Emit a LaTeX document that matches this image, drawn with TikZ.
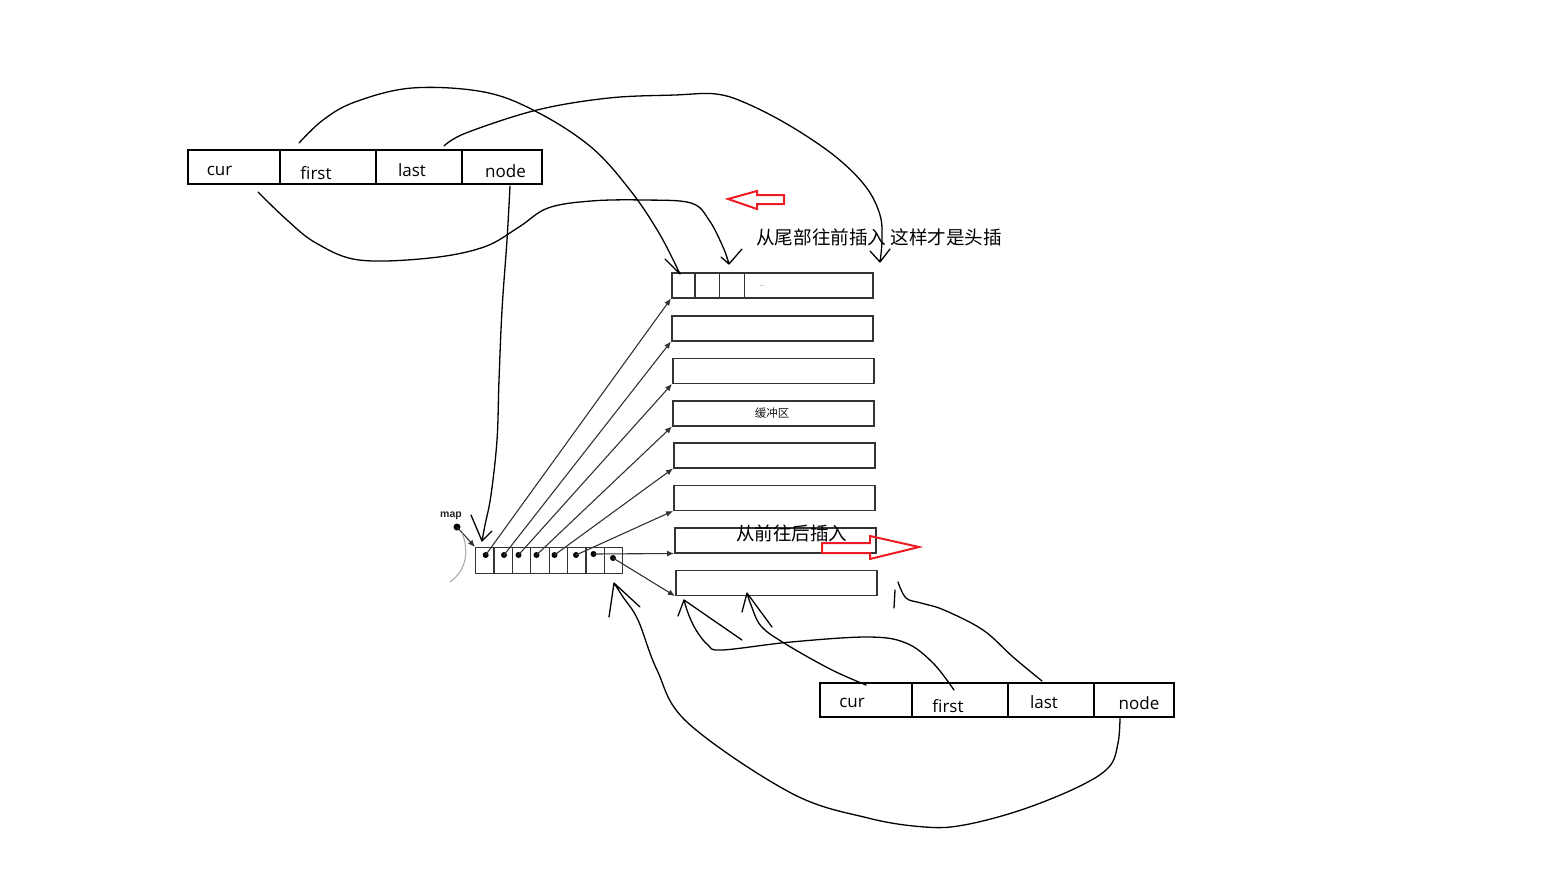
\documentclass[tikz,border=0pt]{standalone}
\usepackage{fontspec}
\setmainfont{Open Sans}
\newfontfamily\cjk{Noto Sans CJK SC}
\newfontfamily\mapfont{Liberation Sans}
\usetikzlibrary{arrows.meta}
\definecolor{paintred}{RGB}{237,28,36}
\begin{document}
\begin{tikzpicture}[x=1pt,y=-1pt,
  field/.style={draw=black, line width=2.4pt, inner sep=0pt, minimum height=34pt, anchor=north west},
  lbl/.style={inner sep=0pt, anchor=base, font=\fontsize{17}{20}\selectfont},
  buf/.style={draw=black!80, line width=1.5pt, inner sep=0pt, minimum width=201pt, minimum height=25pt, anchor=north west},
  mcell/.style={draw=black!80, line width=1.2pt, inner sep=0pt, minimum width=18.4pt, minimum height=26pt, anchor=north west},
  mdot/.style={circle, fill=black, inner sep=0pt, minimum size=6pt},
  ptr/.style={draw=black!80, line width=1.1pt, -{Latex[length=7pt,width=6pt]}},
  hand/.style={draw=black, line width=1.3pt, line cap=round, line join=round},
  redarr/.style={draw=paintred, line width=2pt, line join=miter},
  cjktext/.style={inner sep=0pt, font=\cjk\fontsize{18.6}{21}\selectfont}
]
\fill[white] (0,0) rectangle (1554,878);
\useasboundingbox (0,0) rectangle (1554,878);

% ---- top iterator ----
\node[field, minimum width=92pt] (tcur) at (187,149) {};
\node[field, minimum width=96pt] (tfirst) at (279,149) {};
\node[field, minimum width=86pt] (tlast) at (375,149) {};
\node[field, minimum width=80pt] (tnode) at (461,149) {};
\node[lbl] (tcurl) at (219.5,175) {cur};
\node[lbl] (tfirstl) at (316,179.5) {first};
\node[lbl] (tlastl) at (412,176) {last};
\node[lbl] (tnodel) at (505.5,177) {node};

% ---- bottom iterator ----
\node[field, minimum width=92pt] (bcur) at (819,682) {};
\node[field, minimum width=96pt] (bfirst) at (911,682) {};
\node[field, minimum width=86pt] (blast) at (1007,682) {};
\node[field, minimum width=80pt] (bnode) at (1093,682) {};
\node[lbl] (bcurl) at (852,707.5) {cur};
\node[lbl] (bfirstl) at (948,712.5) {first};
\node[lbl] (blastl) at (1044,708.5) {last};
\node[lbl] (bnodel) at (1139,709) {node};

% ---- buffers ----
\node[buf] (b1) at (671,272) {};
\node[buf] (b2) at (671,315) {};
\node[buf] (b3) at (672,357.5) {};
\node[buf] (b4) at (672,400) {};
\node[buf] (b5) at (673,442) {};
\node[buf] (b6) at (673,484.5) {};
\node[buf] (b7) at (674,527) {};
\node[buf] (b8) at (675,569.5) {};
\draw[draw=black!80, line width=1.3pt]
  (b1.north west) ++(24,0) -- ++(0,25)
  (b1.north west) ++(48.5,0) -- ++(0,25)
  (b1.north west) ++(73.5,0) -- ++(0,25);
\node[inner sep=0pt, text=black!60, font=\fontsize{6}{7}\selectfont] (dots) at (762,286) {...};
\node[inner sep=0pt, text=black!90, font=\cjk\fontsize{11.5}{13}\selectfont] (bufl) at (772,413) {缓冲区};

% ---- map ----
\node[mcell] (m1) at (475,547) {};
\node[mcell] (m2) at (493.4,547) {};
\node[mcell] (m3) at (511.8,547) {};
\node[mcell] (m4) at (530.2,547) {};
\node[mcell] (m5) at (548.6,547) {};
\node[mcell] (m6) at (567,547) {};
\node[mcell] (m7) at (585.4,547) {};
\node[mcell] (m8) at (603.8,547) {};
\node[mdot] (d1) at (485.7,555) {};
\node[mdot] (d2) at (504,555) {};
\node[mdot] (d3) at (518.5,555) {};
\node[mdot] (d4) at (536.5,555) {};
\node[mdot] (d5) at (554.5,555) {};
\node[mdot] (d6) at (576,555) {};
\node[mdot] (d7) at (593.5,554) {};
\node[mdot] (d8) at (613,558) {};
\draw[ptr] (d1.center) -- (b1.south west);
\draw[ptr] (d2.center) -- (b2.south west);
\draw[ptr] (d3.center) -- (b3.south west);
\draw[ptr] (d4.center) -- (b4.south west);
\draw[ptr] (d5.center) -- (b5.south west);
\draw[ptr] (d6.center) -- (b6.south west);
\draw[ptr] (d7.center) -- (b7.south west);
\draw[ptr] (d8.center) -- (b8.south west);

\node[inner sep=0pt, font=\mapfont\bfseries\fontsize{10.5}{12}\selectfont, text=black!85] (maplbl) at (451,516) {map};
\node[mdot, minimum size=7pt] (mapdot) at (457,527) {};
\draw[ptr] (mapdot.center) -- (m1.north west);
\draw[black!35, line width=1pt] (462,533) .. controls (469,550) and (467,570) .. (450,582);

% ---- hand-drawn connectors (top) ----
\coordinate (Afrom) at (299,143);
\coordinate (Ato) at (680,274);
\draw[hand] plot[smooth, tension=0.6] coordinates {(Afrom) (323,120) (355,102) (412,88) (484,92) (537,112) (591,147) (630,190) (659,233) (Ato)}
  (665,259) -- (Ato);

\coordinate (Bfrom) at (444,146);
\coordinate (Bto) at (880,262);
\draw[hand] plot[smooth, tension=0.6] coordinates {(Bfrom) (466,133) (537,110) (609,98) (675,95) (716,94) (748,104) (792,127) (836,157) (866,187) (880,215) (882,240) (Bto)}
  (870,251) -- (Bto) -- (890,249);

\coordinate (Cfrom) at (258,192);
\coordinate (Cto) at (729,264);
\draw[hand] plot[smooth, tension=0.6] coordinates {(Cfrom) (287,220) (316,243) (359,260) (430,258) (484,247) (519,227) (548,208) (591,201) (644,200) (691,203) (709,220) (723,247) (Cto)}
  (721,257) -- (Cto) -- (742,249);

\coordinate (Dfrom) at (510,186);
\coordinate (Dto) at (482,541);
\draw[hand] plot[smooth, tension=0.6] coordinates {(Dfrom) (507,240) (502,310) (499,380) (497,440) (491,495) (485,525) (Dto)}
  (471,515) -- (Dto) -- (492,531);

% ---- hand-drawn connectors (bottom) ----
\coordinate (Efrom) at (866,685);
\coordinate (Eto) at (747,593);
\draw[hand] plot[smooth, tension=0.6] coordinates {(Efrom) (830,669) (784,643) (761,626) (751,605) (Eto)}
  (742,612) -- (Eto) -- (772,627);

\coordinate (Ffrom) at (954,690);
\coordinate (Fto) at (684,600);
\draw[hand] plot[smooth, tension=0.6] coordinates {(Ffrom) (933,663) (906,643) (868,637) (791,642) (722,650) (708,645) (696,630) (688,613) (Fto)}
  (678,616) -- (Fto) -- (742,640);

\coordinate (Gfrom) at (1042,681);
\coordinate (Gto) at (898,582);
\draw[hand] plot[smooth, tension=0.6] coordinates {(Gfrom) (1013,657) (983,630) (944,610) (921,603) (906,598) (Gto)}
  (895,590) -- (894,608);

\coordinate (Hfrom) at (1120,718);
\coordinate (Hto) at (614,583);
\draw[hand] plot[smooth, tension=0.6] coordinates {(Hfrom) (1118,743) (1109,767) (1078,787) (1021,810) (964,825) (925,827) (868,818) (791,793) (688,723) (657,670) (638,620) (623,597) (Hto)}
  (609,617) -- (Hto) -- (640,607);

% ---- notes ----
\node[cjktext, anchor=west] (note1) at (756,237) {从尾部往前插入 这样才是头插};
\node[cjktext, anchor=west, font=\cjk\fontsize{18.5}{21}\selectfont] (note2) at (736,533) {从前往后插入};

% ---- red arrows ----
\draw[redarr] (728,199) -- (757,191) -- (757,195) -- (784,195) -- (784,204) -- (757,204) -- (757,209) -- cycle;
\draw[redarr] (822,543) -- (870,543) -- (870,536) -- (919,547) -- (870,559) -- (870,553) -- (822,553) -- cycle;
\end{tikzpicture}
\end{document}
